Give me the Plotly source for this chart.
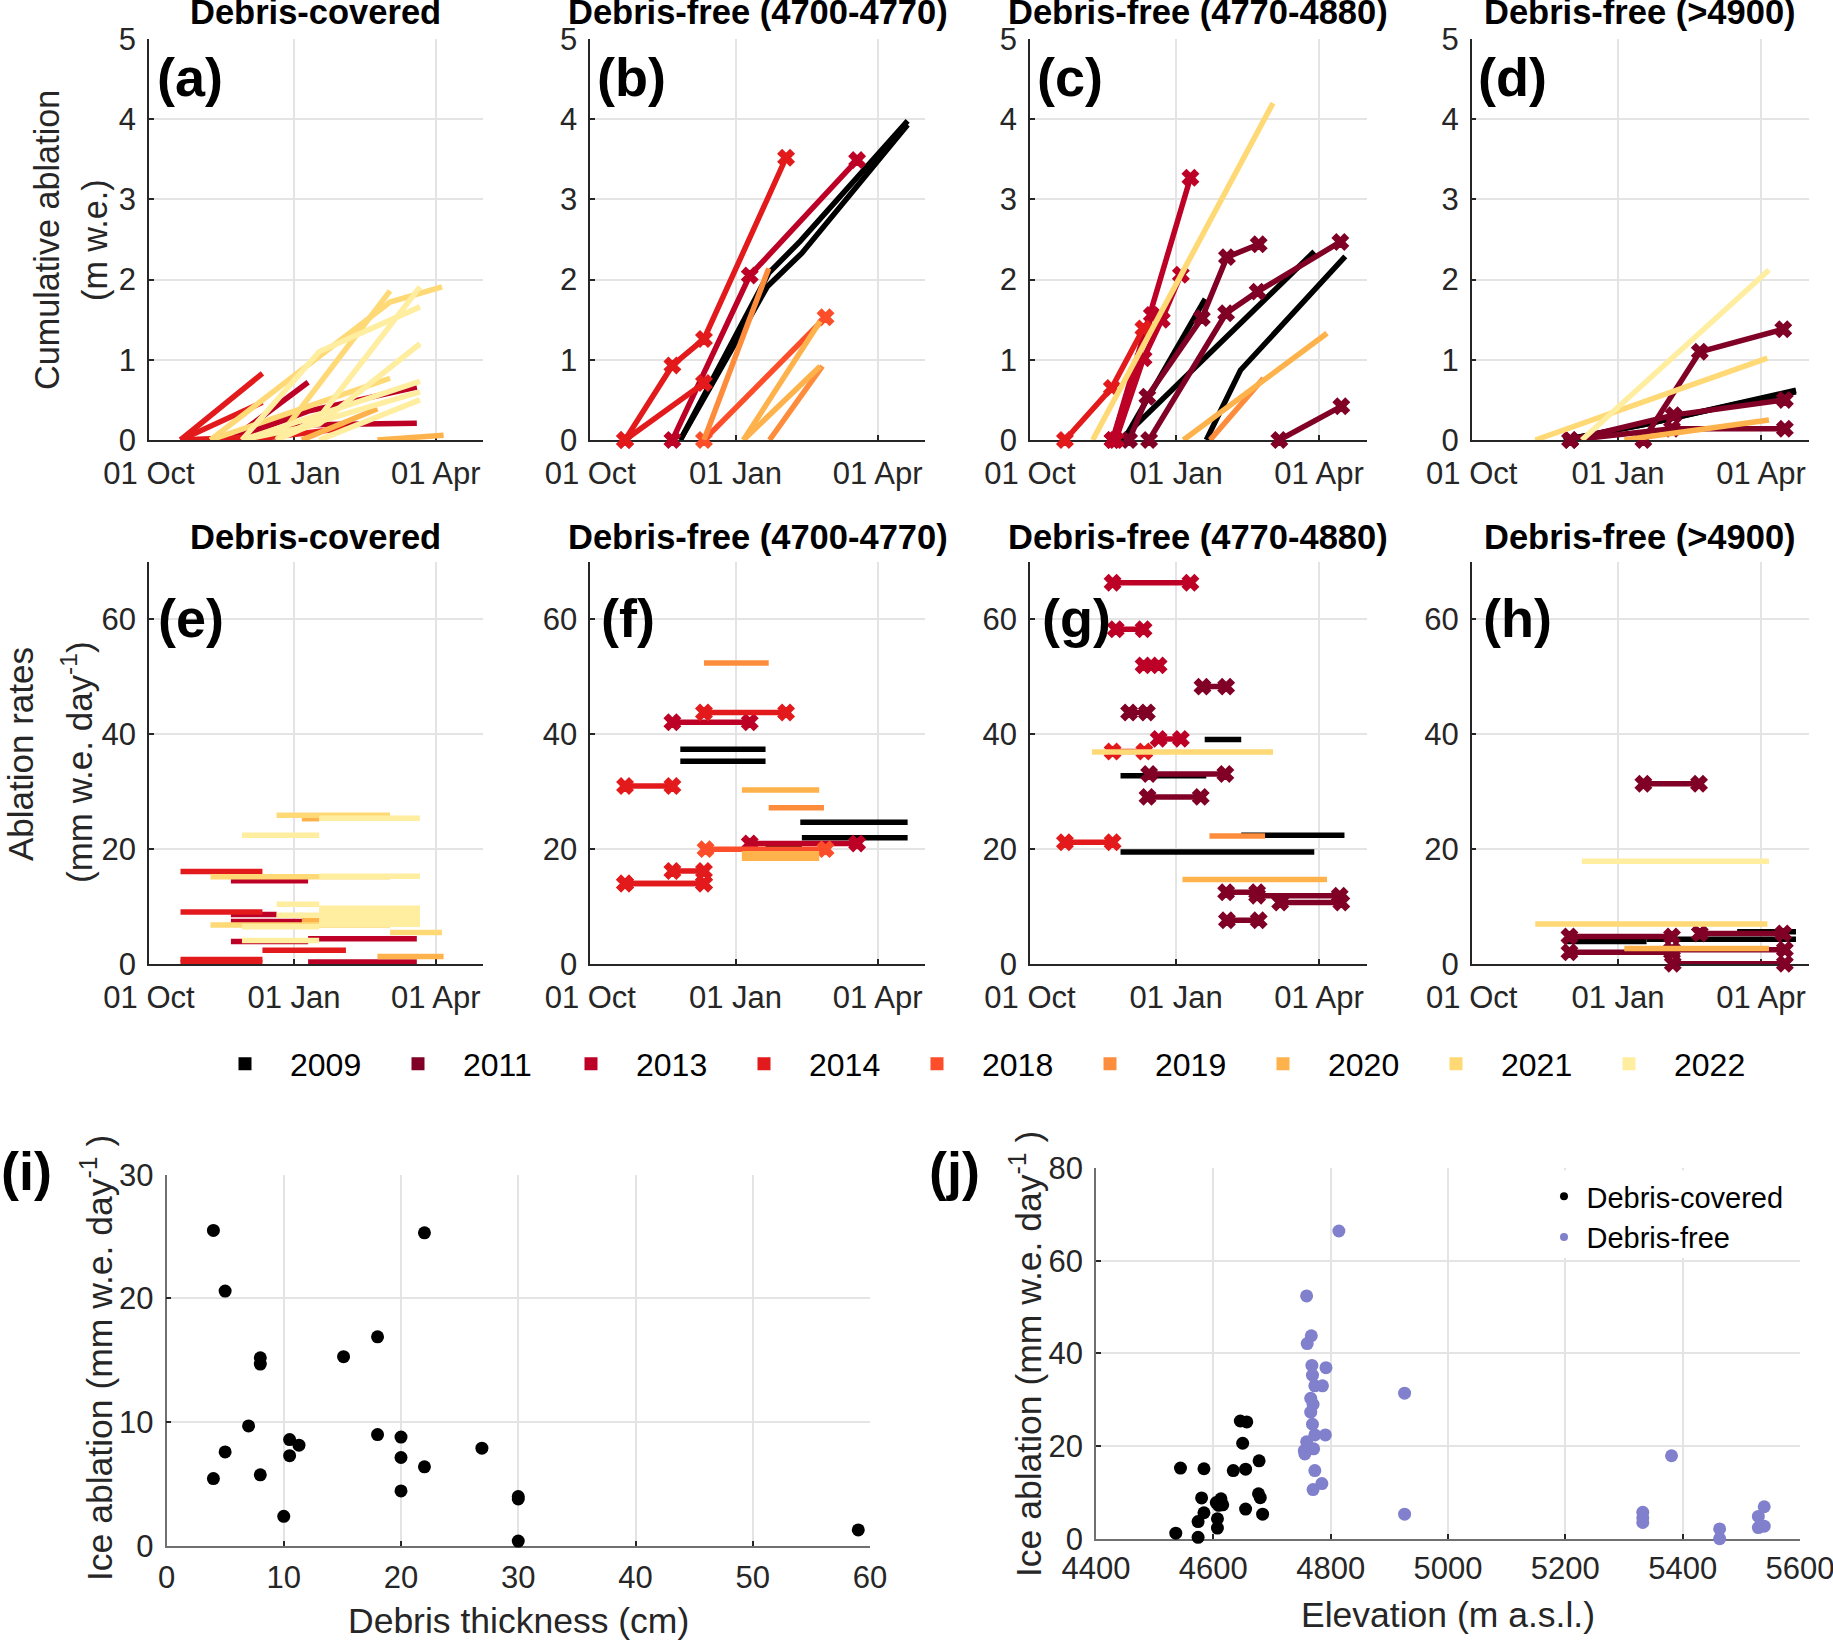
import plotly.graph_objects as go

W, H = 1833, 1640
FONT = "Liberation Sans"
DARK = "#262626"
GRID = "#e4e4e4"

years = [2009, 2011, 2013, 2014, 2018, 2019, 2020, 2021, 2022]
year_colors = ["#000000", "#800026", "#bd0026", "#e31a1c", "#fc4e2a", "#fd8d3c", "#feb24c", "#fed976", "#ffeda0"]
marked_years = [2011, 2013, 2014, 2018]

day_ticks = [0, 92, 182]
day_labels = ["01 Oct", "01 Jan", "01 Apr"]

# Cumulative ablation: (year, days since 01 Oct, m w.e.)
a_lines = [
    (2013, [52, 101], [0, 0.72]),
    (2013, [52, 101], [0, 0.42]),
    (2013, [52, 101, 170], [0, 0.36, 0.66]),
    (2013, [52, 101, 170], [0, 0.19, 0.21]),
    (2014, [20, 72], [0, 0.83]),
    (2014, [20, 72], [0, 0.47]),
    (2014, [20, 72], [0, 0.04]),
    (2014, [20, 72, 125], [0, 0.02, 0.15]),
    (2020, [97, 145], [0, 0.39]),
    (2020, [145, 187], [0, 0.06]),
    (2021, [39, 153, 186], [0, 1.72, 1.91]),
    (2021, [39, 153], [0, 0.77]),
    (2021, [81, 153], [0, 1.86]),
    (2022, [59, 108, 172], [0, 1.1, 1.66]),
    (2022, [59, 108, 172], [0, 0.2, 1.2]),
    (2022, [59, 108, 172], [0, 0.32, 0.73]),
    (2022, [81, 108, 172], [0, 0.28, 1.91]),
    (2022, [81, 108, 172], [0, 0.23, 0.6]),
    (2022, [108, 172], [0, 0.5]),
]
b_lines = [
    (2009, [57, 112, 134, 201], [0, 1.91, 2.33, 3.93]),
    (2009, [57, 113, 133, 201], [0, 2.08, 2.48, 3.98]),
    (2013, [52, 101, 169], [0, 2.05, 3.49]),
    (2014, [22, 52, 72, 124], [0, 0.93, 1.26, 3.52]),
    (2014, [22, 72], [0, 0.71]),
    (2018, [72, 149], [0, 1.53]),
    (2019, [72, 113], [0, 2.14]),
    (2019, [113.5, 147], [0, 0.92]),
    (2020, [97, 145.6], [0, 1.48]),
    (2020, [97, 145.6], [0, 0.92]),
]
c_lines = [
    (2009, [59, 110.3], [0, 1.76]),
    (2009, [57, 179], [0, 2.35]),
    (2009, [111, 132.5, 198.5], [0, 0.87, 2.29]),
    (2011, [62.4, 73.9, 108.2, 124, 144], [0, 0.54, 1.52, 2.28, 2.44]),
    (2011, [75, 123.5, 143.3, 195.4], [0, 1.58, 1.85, 2.47]),
    (2011, [157, 196], [0, 0.42]),
    (2013, [52, 101], [0, 3.27]),
    (2013, [54, 71.5, 83, 95], [0, 1.02, 1.5, 2.06]),
    (2013, [52, 76.7], [0, 1.56]),
    (2014, [22, 51.5, 71.4], [0, 0.65, 1.39]),
    (2019, [113.4, 147], [0, 0.77]),
    (2020, [96.6, 187], [0, 1.33]),
    (2021, [39.5, 153], [0, 4.2]),
]
d_lines = [
    (2009, [58, 110, 204], [0, 0.2, 0.62]),
    (2009, [58, 110, 167, 204], [0, 0.2, 0.45, 0.6]),
    (2011, [62, 127, 197], [0, 0.31, 0.5]),
    (2011, [62, 126, 197], [0, 0.14, 0.14]),
    (2011, [108, 143.5, 196], [0, 1.1, 1.38]),
    (2020, [96, 187], [0, 0.25]),
    (2021, [40, 186], [0, 1.02]),
    (2022, [69.3, 187], [0, 2.12]),
]

# Ablation rates: parallel lists, one bar per index
e_year = [2013, 2013, 2013, 2013, 2013, 2013, 2014, 2014, 2014, 2014, 2014, 2020, 2020, 2020, 2021, 2021, 2021, 2021,
          2022, 2022, 2022, 2022, 2022, 2022, 2022, 2022, 2022, 2022, 2022, 2022]
e_start = [52, 52, 52, 52, 101, 101, 20, 20, 20, 20, 72, 145, 97, 97, 81, 39, 39, 153,
           59, 59, 59, 81, 81, 108, 108, 108, 108, 108, 108, 108]
e_end = [101, 81, 101, 101, 170, 170, 72, 72, 72, 72, 125, 187, 145, 108, 153, 153, 153, 186,
         108, 108, 108, 108, 108, 172, 172, 172, 172, 172, 172, 172]
e_rate = [14.5, 8.6, 7.4, 3.9, 4.4, 0.35, 16.1, 9.07, 0.8, 0.3, 2.4, 1.3, 7.56, 25.3, 25.9, 15.2, 6.8, 5.5,
          22.4, 6.5, 4.1, 10.4, 8.5, 25.4, 15.3, 9.7, 8.8, 8.0, 7.2, 6.9]

f_year = [2009, 2009, 2009, 2009, 2009, 2009, 2013, 2013, 2014, 2014, 2014, 2014, 2014, 2018, 2019, 2019, 2020, 2020, 2020]
f_start = [57, 57, 111, 111, 133, 134, 52, 101, 72, 22, 52, 22, 22, 73, 72, 113, 96, 96, 96]
f_end = [111, 111, 134, 134, 201, 201, 101, 169, 124, 52, 72, 72, 72, 149, 113, 148, 145, 145, 145]
f_rate = [37.4, 35.3, 20.3, 19.7, 24.7, 22, 42.1, 21, 43.8, 31, 16.2, 14, 14, 20, 52.4, 27.2, 30.3, 19.2, 18.4]

g_year = [2009, 2009, 2009, 2009, 2011, 2011, 2011, 2011, 2011, 2011, 2011, 2011, 2013, 2013, 2013, 2013, 2014, 2014, 2019, 2020, 2021]
g_start = [57, 57, 110, 133, 62.4, 108.6, 75, 74, 123.5, 143, 157.5, 124, 52, 54, 71.5, 81, 22, 52, 113, 96, 39]
g_end = [111, 179, 133, 198, 73.6, 123.5, 123, 107.5, 143, 195, 196, 144, 101, 71.5, 81, 95, 52, 72, 148, 187, 153]
g_rate = [32.8, 19.5, 39.1, 22.4, 43.8, 48.3, 33.1, 29.1, 12.5, 11.9, 10.7, 7.6, 66.4, 58.3, 52, 39.2, 21.2, 37, 22.3, 14.7, 36.9]

h_year = [2009, 2009, 2009, 2011, 2011, 2011, 2011, 2011, 2011, 2020, 2021, 2022]
h_start = [58, 110, 167, 61.5, 61.5, 108, 143.5, 126, 126.5, 96, 40, 69.3]
h_end = [110, 204, 204, 126, 126, 143, 196, 197, 197, 187, 186, 187]
h_rate = [3.9, 4.3, 5.6, 4.8, 2.05, 31.4, 5.3, 2.5, 0.05, 2.7, 6.98, 17.9]

# Scatter panels
i_thickness = [4, 5, 22, 18, 15.1, 8, 8, 7, 10.5, 11.3, 18, 20, 26.9, 5, 10.5, 20, 22, 8, 4, 20, 30, 30, 10, 59, 30]
i_ablation = [25.5, 20.6, 25.3, 16.9, 15.3, 15.2, 14.7, 9.7, 8.6, 8.15, 9.0, 8.8, 7.9, 7.6, 7.3, 7.15, 6.4, 5.75, 5.45,
              4.45, 4.0, 3.8, 2.4, 1.3, 0.4]

j_cov_elev = [4544, 4584, 4634, 4655, 4678, 4646, 4657, 4650, 4580, 4613, 4605, 4616, 4584, 4574, 4607, 4607, 4536,
              4574, 4655, 4677, 4680, 4684, 4611, 4609]
j_cov_abl = [15.25, 15.1, 14.7, 15.0, 16.8, 25.4, 25.2, 20.6, 8.8, 8.6, 7.8, 7.3, 5.6, 3.7, 4.3, 2.3, 1.2,
             0.3, 6.4, 9.7, 8.85, 5.3, 7.5, 7.2]
j_free_elev = [4814, 4759, 4767, 4760, 4768, 4792, 4769, 4773, 4786, 4766, 4770, 4766, 4769, 4791, 4773, 4759, 4771, 4755,
               4756, 4773, 4785, 4770, 4926, 4926, 5332, 5332, 5332, 5381, 5463, 5463, 5539, 5529, 5529, 5539]
j_free_abl = [66.4, 52.4, 43.8, 42.1, 37.4, 36.9, 35.3, 33, 33, 30.3, 29, 27.3, 24.7, 22.4, 22.4, 20.9, 19.4, 19,
              18.3, 14.7, 11.9, 10.6, 31.4, 5.3, 5.7, 4.5, 3.5, 17.9, 2.1, 0, 6.9, 4.8, 2.4, 2.7]

titles = ["Debris-covered", "Debris-free (4700-4770)", "Debris-free (4770-4880)", "Debris-free (>4900)"]


def px(x):
    return x / W


def py(y):
    return 1 - y / H


color_of = dict(zip(years, year_colors))
fig = go.Figure()
layout = {}
annotations = []


def text(x, y, s, size, bold=False, angle=0, anchor="center"):
    annotations.append(dict(
        x=px(x), y=py(y), xref="paper", yref="paper", text=f"<b>{s}</b>" if bold else s, showarrow=False,
        font=dict(family=FONT, size=size, color="#000000" if bold else DARK), textangle=angle,
        xanchor=anchor, yanchor="middle"))


def axes(n, x0, x1, y0, y1, xrange, yrange, xticks, xlabels, yticks, line_color=DARK, xoff=5):
    common = dict(showline=True, linecolor=line_color, linewidth=1.5, ticks="inside", ticklen=5, tickwidth=1.5,
                  tickcolor=DARK, showgrid=True, gridcolor=GRID, gridwidth=1.5, zeroline=False,
                  tickfont=dict(family=FONT, size=31, color=DARK), mirror=False, layer="below traces",
                  ticklabeloverflow="allow")
    s = "" if n == 1 else str(n)
    layout["xaxis" + s] = dict(domain=[px(x0), px(x1)], range=xrange, anchor="y" + s, tickvals=xticks,
                               ticktext=xlabels, ticklabelstandoff=xoff, **common)
    layout["yaxis" + s] = dict(domain=[py(y1), py(y0)], range=yrange, anchor="x" + s, tickvals=yticks,
                               ticklabelstandoff=5, **common)
    return "x" + s, "y" + s


def draw_line(xa, ya, year, xs, ys, marked):
    use_marks = marked and year in marked_years
    fig.add_trace(go.Scatter(
        x=xs, y=ys, xaxis=xa, yaxis=ya, mode="lines+markers" if use_marks else "lines", showlegend=False,
        line=dict(color=color_of[year], width=5.5), cliponaxis=False,
        marker=dict(symbol="x", size=14, color=color_of[year], line=dict(width=1.5, color=color_of[year]))))


cols = [(149, 483), (590.3, 925), (1030, 1366.7), (1471.7, 1808.7)]
cum_sets = [a_lines, b_lines, c_lines, d_lines]
rate_sets = [(e_year, e_start, e_end, e_rate), (f_year, f_start, f_end, f_rate),
             (g_year, g_start, g_end, g_rate), (h_year, h_start, h_end, h_rate)]
letters_top = [("(a)", 189.5), ("(b)", 631.5), ("(c)", 1070), ("(d)", 1512)]
letters_mid = [("(e)", 190.5), ("(f)", 628), ("(g)", 1076), ("(h)", 1517)]
title_x = [315, 757.5, 1198, 1640]

for k in range(4):
    x0, x1 = cols[k]
    xa, ya = axes(k + 1, x0, x1, 39, 440, [0, 212], [0, 5], day_ticks, day_labels, [0, 1, 2, 3, 4, 5])
    for year, xs, ys in cum_sets[k]:
        draw_line(xa, ya, year, xs, ys, k > 0)
    text(title_x[k], 12.5, titles[k], 34.5, bold=True)
    text(letters_top[k][1], 77, letters_top[k][0], 54, bold=True)

    xa, ya = axes(k + 5, x0, x1, 562, 964, [0, 212], [0, 70], day_ticks, day_labels, [0, 20, 40, 60])
    yr, st, en, rt = rate_sets[k]
    for idx in sorted(range(len(yr)), key=lambda i: yr[i]):
        draw_line(xa, ya, yr[idx], [st[idx], en[idx]], [rt[idx], rt[idx]], k > 0)
    text(title_x[k], 536.5, titles[k], 34.5, bold=True)
    text(letters_mid[k][1], 618, letters_mid[k][0], 54, bold=True)

xa, ya = axes(9, 166.5, 870, 1174.7, 1546, [0, 60], [0, 30], [0, 10, 20, 30, 40, 50, 60],
              ["0", "10", "20", "30", "40", "50", "60"], [0, 10, 20, 30], "#707070", xoff=3)
fig.add_trace(go.Scatter(x=i_thickness, y=i_ablation, xaxis=xa, yaxis=ya, mode="markers", showlegend=False,
                         cliponaxis=False, marker=dict(color="#000000", size=13)))

xa, ya = axes(10, 1096, 1800, 1168, 1538.7, [4400, 5600], [0, 80], [4400, 4600, 4800, 5000, 5200, 5400, 5600],
              ["4400", "4600", "4800", "5000", "5200", "5400", "5600"], [0, 20, 40, 60, 80], "#707070", xoff=1)
fig.add_trace(go.Scatter(x=j_cov_elev, y=j_cov_abl, xaxis=xa, yaxis=ya, mode="markers", showlegend=False,
                         cliponaxis=False, marker=dict(color="#000000", size=13)))
fig.add_trace(go.Scatter(x=j_free_elev, y=j_free_abl, xaxis=xa, yaxis=ya, mode="markers", showlegend=False,
                         cliponaxis=False, marker=dict(color="#8080cc", size=13)))

# Legends
for year in years:
    fig.add_trace(go.Scatter(x=[None], y=[None], mode="markers", name=str(year), legend="legend",
                             marker=dict(symbol="square", size=13, color=color_of[year])))
for name, c in [("Debris-covered", "#000000"), ("Debris-free", "#8080cc")]:
    fig.add_trace(go.Scatter(x=[None], y=[None], mode="markers", name=name, legend="legend2",
                             marker=dict(symbol="circle", size=8, color=c)))

text(47, 240, "Cumulative ablation", 34.2, angle=-90)
text(95, 240, "(m w.e.)", 34.2, angle=-90)
text(21, 754, "Ablation rates", 35, angle=-90)
text(77, 762, "(mm w.e. day<sup>-1</sup>)", 35, angle=-90)
text(97, 1358, "Ice ablation (mm w.e. day<sup>-1</sup> )", 35.5, angle=-90)
text(1026, 1354, "Ice ablation (mm w.e. day<sup>-1</sup> )", 35.5, angle=-90)
text(518, 1621, "Debris thickness (cm)", 35.5)
text(1448, 1615, "Elevation (m a.s.l.)", 35.5)
text(26, 1171, "(i)", 54, bold=True)
text(954.5, 1171, "(j)", 54, bold=True)

fig.update_layout(
    width=W, height=H, margin=dict(l=0, r=0, t=0, b=0, autoexpand=False), autosize=False,
    paper_bgcolor="white", plot_bgcolor="white",
    annotations=annotations,
    shapes=[dict(type="rect", xref="x10", yref="y10", x0=5183, x1=5588, y0=60.6, y1=79.5, layer="between",
                 fillcolor="white", line=dict(width=0))],
    legend=dict(orientation="h", x=px(200), y=py(1064), xanchor="left", yanchor="middle", entrywidth=78,
                entrywidthmode="pixels", itemwidth=80, font=dict(family="Liberation Sans", size=32, color="#000000"),
                bgcolor="rgba(0,0,0,0)", traceorder="normal", itemclick=False),
    legend2=dict(x=px(1541.5), y=py(1217), xanchor="left", yanchor="middle", itemwidth=35,
                 font=dict(family="Liberation Sans", size=29, color="#000000"), bgcolor="rgba(0,0,0,0)",
                 traceorder="normal"),
    **layout)

fig.write_html("out.html", config={"displayModeBar": False}, post_script="document.body.style.margin='0';")
